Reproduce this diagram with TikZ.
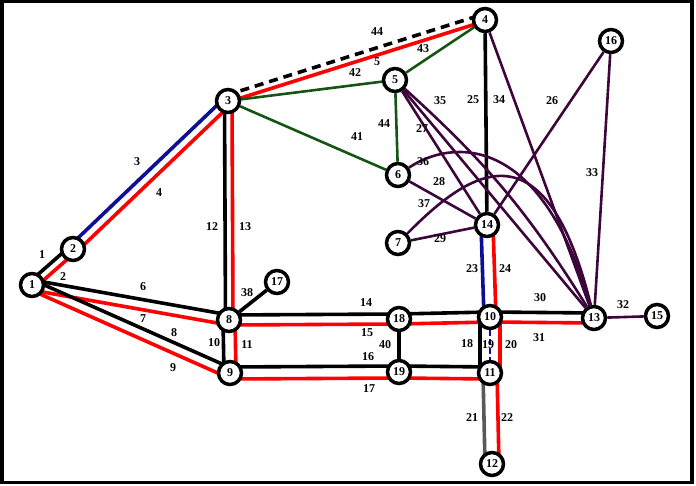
\documentclass[tikz,border=0pt]{standalone}
\usepackage{fontspec}
\setmainfont{Liberation Serif}
\usetikzlibrary{calc}
\pgfdeclarelayer{bg}
\pgfsetlayers{bg,main}
\definecolor{dkgreen}{RGB}{20,85,20}
\definecolor{dkpurple}{RGB}{60,5,60}
\definecolor{navy}{RGB}{15,15,150}

\tikzset{
  bus/.style={circle,draw,line width=3.5pt,fill=white,minimum size=23pt,inner sep=0pt,
    font=\fontsize{12}{12}\selectfont\bfseries},
  lbl/.style={inner sep=0pt,font=\fontsize{12}{12}\selectfont\bfseries},
  ln/.style={line width=3.6pt},
  gr/.style={line width=2.6pt,dkgreen},
  pu/.style={line width=2.6pt,dkpurple},
  offs/.style={to path={($(\tikztostart)!#1!90:(\tikztotarget)$) -- ($(\tikztotarget)!#1!-90:(\tikztostart)$)}}
}

\begin{document}
\begin{tikzpicture}[x=1pt,y=-1pt]
\useasboundingbox (0,0) rectangle (696,486);
\draw[line width=3.5pt] (1.75,1.75) rectangle (692,482.25);

% buses
\node[bus] (b1) at (32,285) {1};
\node[bus] (b2) at (73,249) {2};
\node[bus] (b3) at (228,101) {3};
\node[bus] (b4) at (485,20) {4};
\node[bus] (b5) at (395,80) {5};
\node[bus] (b6) at (398,175) {6};
\node[bus] (b7) at (398,243) {7};
\node[bus] (b8) at (229,320) {8};
\node[bus] (b9) at (230,373) {9};
\node[bus] (b10) at (490,317) {10};
\node[bus] (b11) at (490,373) {11};
\node[bus] (b12) at (492,464) {12};
\node[bus] (b13) at (594,318) {13};
\node[bus] (b14) at (487,225) {14};
\node[bus] (b15) at (657,316) {15};
\node[bus] (b16) at (611,41) {16};
\node[bus] (b17) at (277,282) {17};
\node[bus] (b18) at (399,319) {18};
\node[bus] (b19) at (399,372) {19};

% line numbers
\node[lbl] (l1) at (42,255) {1};
\node[lbl] (l2) at (63,277) {2};
\node[lbl] (l3) at (137,162) {3};
\node[lbl] (l4) at (159,193) {4};
\node[lbl] (l5) at (377,62) {5};
\node[lbl] (l6) at (143,287) {6};
\node[lbl] (l7) at (143,319) {7};
\node[lbl] (l8) at (174,333) {8};
\node[lbl] (l9) at (173,368) {9};
\node[lbl] (l10) at (214,343) {10};
\node[lbl] (l11) at (247,345) {11};
\node[lbl] (l12) at (212,227) {12};
\node[lbl] (l13) at (245,227) {13};
\node[lbl] (l14) at (366,303) {14};
\node[lbl] (l15) at (367,333) {15};
\node[lbl] (l16) at (368,357) {16};
\node[lbl] (l17) at (369,389) {17};
\node[lbl] (l18) at (467,344) {18};
\node[lbl] (l19) at (488,345) {19};
\node[lbl] (l20) at (511,345) {20};
\node[lbl] (l21) at (472,418) {21};
\node[lbl] (l22) at (507,418) {22};
\node[lbl] (l23) at (472,269) {23};
\node[lbl] (l24) at (505,269) {24};
\node[lbl] (l25) at (473,100) {25};
\node[lbl] (l26) at (552,101) {26};
\node[lbl] (l27) at (422,129) {27};
\node[lbl] (l28) at (439,182) {28};
\node[lbl] (l29) at (440,239) {29};
\node[lbl] (l30) at (540,298) {30};
\node[lbl] (l31) at (539,338) {31};
\node[lbl] (l32) at (623,305) {32};
\node[lbl] (l33) at (592,173) {33};
\node[lbl] (l34) at (499,100) {34};
\node[lbl] (l35) at (440,101) {35};
\node[lbl] (l36) at (423,162) {36};
\node[lbl] (l37) at (424,204) {37};
\node[lbl] (l38) at (247,293) {38};
\node[lbl] (l40) at (385,345) {40};
\node[lbl] (l41) at (357,137) {41};
\node[lbl] (l42) at (355,73) {42};
\node[lbl] (l43) at (423,49) {43};
\node[lbl] (l44) at (377,32) {44};
\node[lbl] (l44b) at (384,124) {44};

\begin{pgfonlayer}{bg}
% black / red pairs
\draw[ln] (b1) to[offs=4pt] (b2);
\draw[ln,red] (b1) to[offs=-4pt] (b2);
\draw[ln,navy] (b2) to[offs=4.5pt] (b3);
\draw[ln,red] (b2) to[offs=-4.5pt] (b3);
\draw[ln] (b1) to[offs=5pt] (b8);
\draw[ln,red] (b1) to[offs=-5pt] (b8);
\draw[ln] (b1) to[offs=5pt] (b9);
\draw[ln,red] (b1) to[offs=-5pt] (b9);
\draw[ln] (b3) to[offs=-3.5pt] (b8);
\draw[ln,red] (b3) to[offs=4pt] (b8);
\draw[ln] (b8) to[offs=-6pt] (b9);
\draw[ln,red] (b8) to[offs=6pt] (b9);
\draw[ln] (b8) to[offs=5pt] (b18);
\draw[ln,red] (b8) to[offs=-5pt] (b18);
\draw[ln] (b18) to[offs=5pt] (b10);
\draw[ln,red] (b18) to[offs=-5pt] (b10);
\draw[ln] (b9) to[offs=6pt] (b19);
\draw[ln,red] (b9) to[offs=-6pt] (b19);
\draw[ln] (b19) to[offs=6pt] (b11);
\draw[ln,red] (b19) to[offs=-6pt] (b11);
\draw[ln] (b18) -- (b19);
\draw[ln] (b8) -- (b17);
\draw[ln] (b10) to[offs=-10pt] (b11);
\draw[line width=2.2pt,navy,dash pattern=on 6pt off 3pt] (b10) -- (b11);
\draw[ln,red] (b10) to[offs=10pt] (b11);
\draw[ln,black!65] (b11) to[offs=-7pt] (b12);
\draw[ln,red] (b11) to[offs=7pt] (b12);
\draw[ln,navy] (b14) to[offs=-6pt] (b10);
\draw[ln,red] (b14) to[offs=6pt] (b10);
\draw[ln] (b10) to[offs=5pt] (b13);
\draw[ln,red] (b10) to[offs=-5pt] (b13);
\draw[ln] (b4) -- (b14);
% 3 -- 4
\draw[ln,dash pattern=on 9pt off 6pt] (b3) to[offs=6pt] (b4);
\draw[ln,red] (b3) to[offs=-1pt] (b4);
% green lines
\draw[gr] (b3) -- (b5);
\draw[gr] (b3) -- (b6);
\draw[gr] (b4) -- (b5);
\draw[gr] (b5) -- (b6);
% purple lines
\draw[pu] (b5) -- (b14);
\draw[pu] (b5) -- (b13);
\draw[pu] (b5) to[bend left=8] (b13);
\draw[pu] (b4) -- (b13);
\draw[pu] (b16) -- (b14);
\draw[pu] (b16) -- (b13);
\draw[pu] (b13) -- (b15);
\draw[pu] (b6) -- (b14);
\draw[pu] (b7) -- (b14);
\draw[pu] (b6) .. controls (450,140) and (540,130) .. (b13);
\draw[pu] (b7) .. controls (470,170) and (545,120) .. (b13);
\end{pgfonlayer}
\end{tikzpicture}
\end{document}
